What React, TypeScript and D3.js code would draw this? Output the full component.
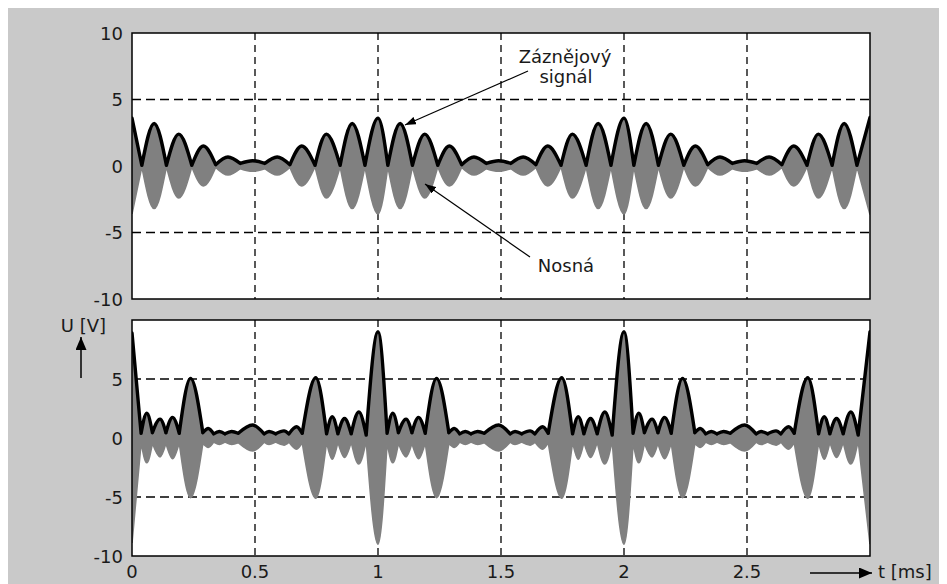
import * as d3 from 'd3'

const W = 939
const H = 576
const left = 124
const right = 862
const panels = [
  { y0: 25, y1: 291 },
  { y0: 312, y1: 548 }
]

const xTicks = [0, 0.5, 1, 1.5, 2, 2.5]
const topYTicks = [10, 5, 0, -5, -10]
const botYTicks = [5, 0, -5, -10]
const gridX = [0.5, 1, 1.5, 2, 2.5]
const gridY = [-5, 0, 5]

// peaks and dips of |u| (they alternate: peak, dip, peak ...)
const topT = [
  0, 0.04, 0.09, 0.14, 0.19, 0.243, 0.29, 0.34, 0.39, 0.44, 0.49, 0.54, 0.59, 0.642, 0.69, 0.744, 0.79, 0.846, 0.895, 0.947,
  1.0, 1.04, 1.09, 1.14, 1.19, 1.243, 1.29, 1.34, 1.39, 1.44, 1.49, 1.54, 1.59, 1.642, 1.69, 1.744, 1.79, 1.846, 1.895, 1.947,
  2.0, 2.04, 2.09, 2.14, 2.19, 2.243, 2.29, 2.34, 2.39, 2.44, 2.49, 2.54, 2.59, 2.642, 2.69, 2.744, 2.79, 2.846, 2.895, 2.947,
  3.0
]
const topU = [
  3.6, 0.05, 3.2, 0.05, 2.4, 0.05, 1.5, 0.1, 0.68, 0.2, 0.4, 0.2, 0.68, 0.1, 1.5, 0.05, 2.4, 0.05, 3.2, 0.05,
  3.6, 0.05, 3.2, 0.05, 2.4, 0.05, 1.5, 0.1, 0.68, 0.2, 0.4, 0.2, 0.68, 0.1, 1.5, 0.05, 2.4, 0.05, 3.2, 0.05,
  3.6, 0.05, 3.2, 0.05, 2.4, 0.05, 1.5, 0.1, 0.68, 0.2, 0.4, 0.2, 0.68, 0.1, 1.5, 0.05, 2.4, 0.05, 3.2, 0.05,
  3.65
]

const botT = [
  0, 0.037, 0.06, 0.083, 0.114, 0.138, 0.165, 0.192, 0.238, 0.288, 0.31, 0.332, 0.355, 0.378, 0.405, 0.432,
  0.49, 0.537, 0.557, 0.584, 0.618, 0.638, 0.669, 0.692, 0.747, 0.791, 0.814, 0.837, 0.864, 0.891, 0.922, 0.952,
  1.0, 1.037, 1.06, 1.083, 1.114, 1.138, 1.165, 1.192, 1.238, 1.288, 1.31, 1.332, 1.355, 1.378, 1.405, 1.432,
  1.49, 1.537, 1.557, 1.584, 1.618, 1.638, 1.669, 1.692, 1.747, 1.791, 1.814, 1.837, 1.864, 1.891, 1.922, 1.952,
  2.0, 2.037, 2.06, 2.083, 2.114, 2.138, 2.165, 2.192, 2.238, 2.288, 2.31, 2.332, 2.355, 2.378, 2.405, 2.432,
  2.49, 2.537, 2.557, 2.584, 2.618, 2.638, 2.669, 2.692, 2.747, 2.791, 2.814, 2.837, 2.864, 2.891, 2.922, 2.952,
  3.0
]
const botU = [
  8.9, 0.4, 2.1, 0.45, 1.6, 0.45, 1.75, 0.4, 5.05, 0.45, 0.8, 0.35, 0.55, 0.35, 0.55, 0.4,
  1.1, 0.35, 0.55, 0.35, 0.6, 0.35, 0.95, 0.4, 5.1, 0.35, 1.8, 0.35, 1.65, 0.35, 2.2, 0.25,
  9.0, 0.4, 2.1, 0.45, 1.6, 0.45, 1.75, 0.4, 5.05, 0.45, 0.8, 0.35, 0.55, 0.35, 0.55, 0.4,
  1.1, 0.35, 0.55, 0.35, 0.6, 0.35, 0.95, 0.4, 5.1, 0.35, 1.8, 0.35, 1.65, 0.35, 2.2, 0.25,
  9.0, 0.4, 2.1, 0.45, 1.6, 0.45, 1.75, 0.4, 5.05, 0.45, 0.8, 0.35, 0.55, 0.35, 0.55, 0.4,
  1.1, 0.35, 0.55, 0.35, 0.6, 0.35, 0.95, 0.4, 5.1, 0.35, 1.8, 0.35, 1.65, 0.35, 2.2, 0.25,
  9.0
]

const font = '"DejaVu Sans", sans-serif'
const ink = '#1a1a1a'

// one arch per peak: dip - peak - dip
function bumps(t: number[], u: number[]) {
  const segs: [number, number][][] = []
  for (let i = 0; i < t.length; i += 2) {
    const s: [number, number][] = []
    for (let j = Math.max(0, i - 1); j <= Math.min(t.length - 1, i + 1); j++) s.push([t[j], u[j]])
    segs.push(s)
  }
  return segs
}

function Panel({ idx, t, u, yTicks }: { idx: number; t: number[]; u: number[]; yTicks: number[] }) {
  const { y0, y1 } = panels[idx]
  const x = d3.scaleLinear().domain([0, 3]).range([left, right])
  const y = d3.scaleLinear().domain([-10, 10]).range([y1, y0])
  const segs = bumps(t, u)

  const line = d3.line<[number, number]>()
    .x(d => x(d[0]))
    .y(d => y(d[1]))
    .curve(d3.curveMonotoneX)
  const area = d3.area<[number, number]>()
    .x(d => x(d[0]))
    .y0(d => y(-d[1]))
    .y1(d => y(d[1]))
    .curve(d3.curveMonotoneX)

  const clipId = `clip${idx}`
  return (
    <g>
      <defs>
        <clipPath id={clipId}>
          <rect x={left} y={y0} width={right - left} height={y1 - y0} />
        </clipPath>
      </defs>
      <rect x={left} y={y0} width={right - left} height={y1 - y0} fill="#fff" />
      {gridX.map(g => (
        <line key={'gx' + g} x1={x(g)} x2={x(g)} y1={y0} y2={y1}
          stroke="#000" strokeWidth={1.3} strokeDasharray="7 5" />
      ))}
      {gridY.map(g => (
        <line key={'gy' + g} x1={left} x2={right} y1={y(g)} y2={y(g)}
          stroke="#000" strokeWidth={1.3} strokeDasharray="9 5" />
      ))}
      <g clipPath={`url(#${clipId})`}>
        <path d={segs.map(s => area(s)).join('')} fill="#808080" stroke="#808080" strokeWidth={1.6} />
        <path d={segs.map(s => line(s)).join('')} fill="none" stroke="#000"
          strokeWidth={3.4} strokeLinejoin="round" strokeLinecap="round" />
      </g>
      <rect x={left} y={y0} width={right - left} height={y1 - y0} fill="none" stroke="#000" strokeWidth={1.5} />
      {yTicks.map(v => (
        <text key={'yl' + v} x={left - 9} y={y(v)} dy="0.37em" textAnchor="end"
          fontFamily={font} fontSize={18} fill={ink}>{v}</text>
      ))}
      {idx === 1 && xTicks.map(v => (
        <text key={'xl' + v} x={x(v)} y={570} textAnchor="middle"
          fontFamily={font} fontSize={18} fill={ink}>{v}</text>
      ))}
    </g>
  )
}

function App() {
  return (
    <svg width={W} height={H} style={{ display: 'block' }}>
      <defs>
        <marker id="headS" markerUnits="userSpaceOnUse" markerWidth={11} markerHeight={8}
          refX={11} refY={4} orient="auto">
          <path d="M0,0 L11,4 L0,8 Z" fill="#000" />
        </marker>
        <marker id="headB" markerUnits="userSpaceOnUse" markerWidth={13} markerHeight={11}
          refX={13} refY={5.5} orient="auto">
          <path d="M0,0 L13,5.5 L0,11 Z" fill="#000" />
        </marker>
      </defs>
      <rect width={W} height={H} fill="#c9c9c9" />
      <Panel idx={0} t={topT} u={topU} yTicks={topYTicks} />
      <Panel idx={1} t={botT} u={botU} yTicks={botYTicks} />

      <text x={557} y={55} textAnchor="middle" fontFamily={font} fontSize={18} fill={ink}>Záznějový</text>
      <text x={558} y={75} textAnchor="middle" fontFamily={font} fontSize={18} fill={ink}>signál</text>
      <line x1={520} y1={63} x2={397} y2={117} stroke="#000" strokeWidth={1.2} markerEnd="url(#headS)" />

      <text x={558} y={264} textAnchor="middle" fontFamily={font} fontSize={18} fill={ink}>Nosná</text>
      <line x1={522} y1={249} x2={417} y2={176} stroke="#000" strokeWidth={1.2} markerEnd="url(#headS)" />

      <text x={75.5} y={324} textAnchor="middle" fontFamily={font} fontSize={18} fill={ink}>U [V]</text>
      <line x1={73} y1={370} x2={73} y2={329} stroke="#000" strokeWidth={1.5} markerEnd="url(#headB)" />

      <line x1={802} y1={565} x2={864} y2={565} stroke="#000" strokeWidth={1.5} markerEnd="url(#headB)" />
      <text x={870} y={570} fontFamily={font} fontSize={18} fill={ink}>t [ms]</text>
    </svg>
  )
}

export default App
